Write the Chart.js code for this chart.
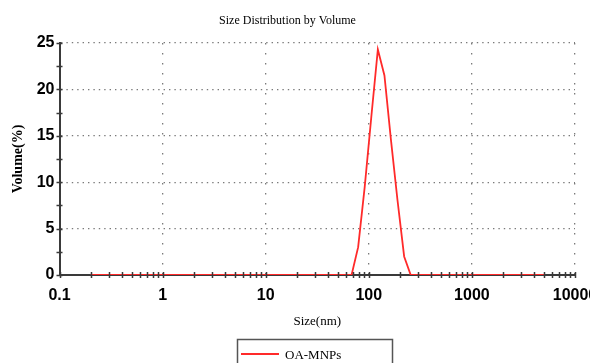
<!DOCTYPE html>
<html>
<head>
<meta charset="utf-8">
<script src="https://cdn.jsdelivr.net/npm/chart.js@4.4.1/dist/chart.umd.min.js"></script>
<style>
  html, body { margin: 0; padding: 0; background: #ffffff; }
  #wrap { position: relative; width: 590px; height: 363px; }
</style>
</head>
<body>
<div id="wrap"><canvas id="dls-canvas" width="590" height="363"></canvas></div>
<script>
// 粒径分布 (体积) 数据
const SIZES_NM = [0.2, 68.06, 78.82, 91.28, 105.7, 122.4, 141.8, 164.2, 190.1, 220.2, 255.0, 5000];
const VOLUME_PCT = [0, 0, 3, 9.5, 17, 24.3, 21.5, 14.5, 8, 2, 0, 0];
const SERIES_LABEL = 'OA-MNPs';

// 坐标轴刻度
const X_TICKS = [0.1, 1, 10, 100, 1000, 10000];
const X_TICK_LABELS = ['0.1', '1', '10', '100', '1000', '10000'];
const Y_TICKS = [0, 5, 10, 15, 20, 25];
const Y_MINOR = [2.5, 7.5, 12.5, 17.5, 22.5];

const TICK_FONT = { family: '"Liberation Sans Narrow", "Arial Narrow", Arial, sans-serif', size: 16, weight: 'bold' };
const SERIF = '"Liberation Serif", "Times New Roman", serif';
const AXIS_COLOR = '#3a3a3a';

// x 轴次刻度 2..9 每个十进位
var xMinor = [];
for (var d = 0; d < X_TICKS.length - 1; d++) {
  for (var m = 2; m <= 9; m++) xMinor.push(X_TICKS[d] * m);
}

// 刻度线横穿坐标轴 + 图例框
const crossTicks = {
  id: 'crossTicks',
  afterDatasetsDraw(chart) {
    var ctx = chart.ctx;
    var xs = chart.scales.x, ys = chart.scales.y;
    var area = chart.chartArea;
    ctx.save();
    ctx.strokeStyle = AXIS_COLOR;
    ctx.lineWidth = 1.5;
    ctx.beginPath();
    X_TICKS.concat(xMinor).forEach(function(v) {
      var px = Math.round(xs.getPixelForValue(v)) + 0.5;
      ctx.moveTo(px, area.bottom - 3);
      ctx.lineTo(px, area.bottom + 3);
    });
    Y_TICKS.concat(Y_MINOR).forEach(function(v) {
      var py = Math.round(ys.getPixelForValue(v)) + 0.5;
      ctx.moveTo(area.left - 3, py);
      ctx.lineTo(area.left + 3, py);
    });
    ctx.stroke();
    ctx.restore();
  },
  afterDraw(chart) {
    var ctx = chart.ctx;
    var ds = chart.data.datasets[0];
    ctx.save();
    ctx.strokeStyle = '#555555';
    ctx.lineWidth = 1.5;
    ctx.strokeRect(237.5, 339.5, 155, 40);
    ctx.strokeStyle = ds.borderColor;
    ctx.lineWidth = 2;
    ctx.beginPath();
    ctx.moveTo(241, 354);
    ctx.lineTo(279, 354);
    ctx.stroke();
    ctx.fillStyle = '#000000';
    ctx.font = '13px ' + SERIF;
    ctx.textBaseline = 'middle';
    ctx.fillText(ds.label, 285, 356);
    ctx.restore();
  }
};

var points = SIZES_NM.map(function(s, i) { return { x: s, y: VOLUME_PCT[i] }; });

new Chart(document.getElementById('dls-canvas'), {
  type: 'line',
  data: {
    datasets: [{
      label: SERIES_LABEL,
      data: points,
      borderColor: '#ff2a2a',
      borderWidth: 1.8,
      pointRadius: 0,
      tension: 0,
      fill: false
    }]
  },
  options: {
    responsive: false,
    animation: false,
    events: [],
    layout: { padding: { left: 0, right: 15, top: 0, bottom: 0 } },
    scales: {
      x: {
        type: 'logarithmic',
        min: 0.1,
        max: 10000,
        afterBuildTicks: function(scale) {
          scale.ticks = X_TICKS.map(function(v) { return { value: v }; });
        },
        afterFit: function(scale) {
          scale.height = 88;
          scale.paddingLeft = 0;
          scale.paddingRight = 0;
        },
        ticks: {
          color: '#000000',
          font: TICK_FONT,
          padding: 11,
          maxRotation: 0,
          autoSkip: false,
          callback: function(val, i) { return X_TICK_LABELS[i]; }
        },
        grid: {
          color: '#7a7a7a',
          lineWidth: 1.3,
          drawTicks: false
        },
        border: { display: true, color: AXIS_COLOR, width: 2, dash: [1.4, 8.6] },
        title: {
          display: true,
          text: 'Size(nm)',
          color: '#000000',
          font: { family: SERIF, size: 13 },
          padding: { top: 0, bottom: 34 }
        }
      },
      y: {
        min: 0,
        max: 25,
        afterBuildTicks: function(scale) {
          scale.ticks = Y_TICKS.map(function(v) { return { value: v }; });
        },
        afterFit: function(scale) {
          scale.width = 59.5;
          scale.paddingTop = 0;
          scale.paddingBottom = 0;
        },
        ticks: {
          color: '#000000',
          font: TICK_FONT,
          padding: 5
        },
        grid: {
          color: '#7a7a7a',
          lineWidth: 1.3,
          drawTicks: false
        },
        border: { display: true, color: AXIS_COLOR, width: 2, dash: [1.4, 4] },
        title: {
          display: true,
          text: 'Volume(%)',
          color: '#000000',
          font: { family: SERIF, size: 14, weight: 'bold' },
          padding: { top: 10, bottom: 0 }
        }
      }
    },
    plugins: {
      legend: { display: false },
      tooltip: { enabled: false },
      title: {
        display: true,
        text: 'Size Distribution by Volume',
        color: '#000000',
        font: { family: SERIF, size: 12, weight: 'normal' },
        padding: { top: 14, bottom: 14.6 }
      }
    }
  },
  plugins: [crossTicks]
});
</script>
</body>
</html>
